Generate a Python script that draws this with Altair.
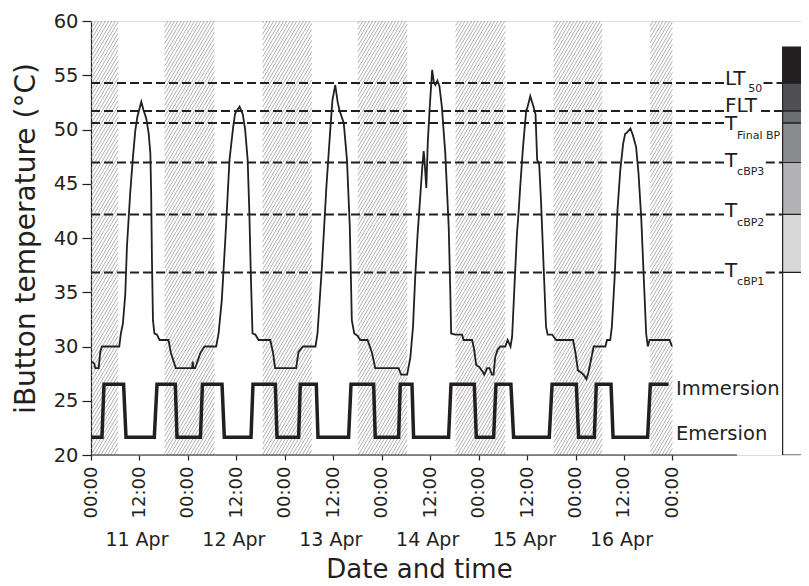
import json
import altair as alt
import pandas as pd

# ---------------- data (hours since 11 Apr 00:00) ----------------
temp_hours = [0.25, 0.82, 1.07, 1.9, 2.3, 2.7, 7.0, 7.4, 7.9, 8.5, 8.9, 9.7, 10.4, 10.97, 11.5, 12.46, 13.0,
              13.7, 14.3, 14.7, 14.9, 15.1, 15.35, 15.7, 16.3, 17.0, 19.2, 19.8, 20.5, 21.0, 25.0, 25.2, 25.4,
              25.8, 27.1, 28.1, 31.0, 31.6, 32.4, 33.3, 34.3, 35.2, 35.7, 36.8, 37.6, 38.2, 38.8, 39.2, 39.6,
              40.0, 40.7, 41.5, 44.4, 45.1, 45.6, 50.8, 51.4, 52.5, 55.6, 56.1, 57.2, 58.3, 59.3, 59.8, 60.5,
              61.1, 61.6, 62.6, 63.4, 64.1, 64.6, 65.2, 66.0, 66.7, 68.5, 69.6, 70.4, 76.2, 76.8, 78.3, 79.1,
              79.75, 80.3, 80.9, 81.6, 82.0, 82.4, 82.6, 83.05, 83.4, 83.9, 84.5, 84.9, 85.3, 85.8, 86.3, 86.9,
              87.75, 88.6, 89.0, 89.2, 90.2, 91.9, 92.3, 94.4, 94.9, 95.4, 96.2, 96.8, 97.4, 98.1, 98.7, 99.3,
              99.7, 100.1, 100.7, 101.4, 102.6, 103.2, 103.9, 104.3, 104.8, 105.5, 105.9, 106.3, 107.0, 107.8,
              108.0, 108.8, 109.6, 110.1, 110.5, 111.0, 111.45, 112.1, 112.7, 113.1, 114.2, 115.2, 119.4, 120.0,
              120.6, 121.4, 122.0, 122.7, 123.2, 123.8, 124.5, 124.9, 127.4, 127.8, 128.6, 129.0, 129.7, 130.4,
              131.1, 131.8, 132.3, 132.7, 133.6, 134.2, 135.0, 135.6, 136.3, 136.9, 137.5, 137.9, 138.35, 143.3,
              143.9]
temp_values = [28.6, 28.4, 28.0, 28.0, 29.5, 30.0, 30.0, 31.2, 32.1, 34.9, 39.2, 44.1, 47.5, 49.9, 51.2, 52.55, 51.8,
               51.0, 49.6, 47.8, 44.1, 37.9, 32.4, 31.2, 31.1, 30.6, 30.6, 29.4, 28.6, 28.0, 28.0, 28.6, 28.0,
               28.0, 29.4, 30.0, 30.0, 31.2, 34.3, 40.1, 47.2, 50.2, 51.5, 52.1, 51.4, 49.9, 47.2, 42.6, 36.4,
               31.2, 31.1, 30.6, 30.6, 29.4, 28.0, 28.0, 29.5, 30.0, 30.0, 31.2, 37.4, 44.7, 50.2, 52.7, 54.1,
               52.5, 51.7, 50.6, 47.2, 41.0, 32.4, 31.2, 31.0, 30.6, 30.6, 29.4, 28.0, 28.0, 27.4, 27.4, 29.0,
               31.8, 36.4, 40.4, 44.1, 46.3, 48.0, 47.2, 44.6, 48.7, 52.1, 55.5, 54.4, 54.1, 54.5, 54.0, 52.1,
               47.8, 41.0, 34.9, 31.2, 31.1, 31.1, 30.6, 30.6, 29.7, 28.3, 28.1, 27.8, 27.4, 28.0, 28.0, 27.4,
               27.4, 29.0, 29.7, 30.0, 30.0, 30.6, 30.0, 30.9, 34.9, 40.4, 42.3, 44.7, 48.4, 51.8,
               51.9, 53.07, 52.1, 51.4, 47.2, 46.8, 43.5, 37.4, 31.8, 31.1, 31.1, 30.6, 30.6, 29.4,
               27.8, 27.6, 27.4, 27.0, 27.6, 28.7, 30.0, 30.0, 30.0, 30.6, 30.6, 31.8, 36.4, 42.6,
               46.3, 48.7, 49.6, 49.7, 50.1, 49.5, 48.4, 46.0, 41.7, 36.4, 31.2, 30.0, 30.6, 30.6,
               30.0]

IMM, EME = 26.52, 21.64
tide_hours = [0, 2.72, 3.22, 8.07, 8.67, 15.68, 16.35, 20.88, 21.3, 27.11, 27.6, 32.45, 33.02, 39.63, 40.12,
              45.65, 46.07, 51.42, 51.84, 55.8, 56.22, 63.8, 64.4, 70.0, 70.4, 76.19, 76.6, 79.5, 79.9, 88.57,
              89.16, 94.93, 95.43, 99.72, 100.3, 104.0, 104.67, 113.5, 114.2, 120.2, 120.77, 124.66, 125.15,
              128.8, 129.3, 137.86, 138.53, 143.06]
tide_values = [EME, EME, IMM, IMM, EME, EME, IMM, IMM, EME, EME, IMM, IMM, EME, EME, IMM,
               IMM, EME, EME, IMM, IMM, EME, EME, IMM, IMM, EME, EME, IMM, IMM, EME, EME,
               IMM, IMM, EME, EME, IMM, IMM, EME, EME, IMM, IMM, EME, EME, IMM,
               IMM, EME, EME, IMM, IMM]

night_start = [0.0, 18.23, 42.5, 66.1, 90.3, 114.6, 138.5]
night_end = [6.69, 30.54, 54.7, 78.3, 102.6, 126.6, 144.0]

threshold_main = ["LT", "FLT", "T", "T", "T", "T"]
threshold_sub = ["50", "", "Final BP", "cBP3", "cBP2", "cBP1"]
threshold_values = [54.29, 51.71, 50.61, 46.96, 42.17, 36.83]

bar_bounds = [20, 36.83, 42.17, 46.96, 50.61, 51.71, 54.29, 57.6]
bar_colors = ["#ffffff", "#d8d8d9", "#b3b3b5", "#8b8c8e", "#6d6e70", "#505052", "#231f20"]

tick_hours = list(range(0, 145, 12))
tick_labels = ["00:00", "12:00"] * 6 + ["00:00"]
day_hours = [12, 36, 60, 84, 108, 132]
day_labels = ["11 Apr", "12 Apr", "13 Apr", "14 Apr", "15 Apr", "16 Apr"]
tide_label_text = ["Immersion", "Emersion"]
tide_label_y = [25.53, 21.38]

# ---------------- layout ----------------
W, H = 710, 434
X_MAX = 175.85
Y_MIN, Y_MAX = 20, 60
INK = "#231f20"
FONT = "DejaVu Sans"
pxh = W / X_MAX
pxd = H / (Y_MAX - Y_MIN)
LABEL_X = 157.0          # start of threshold label
SUB_SHIFT = {"LT": 23.4, "FLT": 34.9, "T": 12.2}   # px width of main label
SUB_W = {"50": 14.0, "": 0, "Final BP": 44, "cBP3": 27.5, "cBP2": 27.5, "cBP1": 27.5}
MAIN_DY = [2.3, 1.0, 7.0, 4.4, 3.0, 4.4]     # px below the line of the main label baseline
SUB_DY = [7.0, 0, 9.0, 8.0, 8.5, 8.5]        # px below main baseline of the subscript baseline
BAR_X = 171.3
AXIS_END = 160.0
TIDE_LABEL_X = 144.9

xs = alt.Scale(domain=[0, X_MAX], nice=False, zero=False)
ys = alt.Scale(domain=[Y_MIN, Y_MAX], nice=False, zero=False)

yaxis = alt.Axis(
    values=list(range(20, 61, 5)), title="iButton temperature (°C)", titleFontSize=28,
    titleFont=FONT, titleColor=INK, titleFontWeight="normal", titlePadding=13,
    labelFontSize=19.5, labelColor=INK, labelFont=FONT, labelPadding=4, tickSize=9,
    tickColor=INK, tickWidth=1.2, domainColor=INK, domainWidth=1.2, grid=False,
    labelFlush=False, labelOverlap=False, orient="left")

# hatch pattern for night bands
slope, spacing = 1.7, 3.3
hatch_rows = []
for a, b in zip(night_start, night_end):
    xa, xb = a * pxh, b * pxh
    k = int((xa - H / slope) // spacing)
    c = k * spacing
    while c < xb:
        y0 = max(0.0, (xa - c) * slope)
        y1 = min(float(H), (xb - c) * slope)
        if y1 > y0:
            hatch_rows.append(dict(x=(c + y0 / slope) / pxh, x2=(c + y1 / slope) / pxh,
                                   y=Y_MIN + y0 / pxd, y2=Y_MIN + y1 / pxd))
        c += spacing
hatch_df = pd.DataFrame(hatch_rows)

# dashed threshold segments and labels
seg_rows, lab_rows, sub_rows = [], [], []
for i, (m, s, v) in enumerate(zip(threshold_main, threshold_sub, threshold_values)):
    seg_rows.append(dict(x=0, x2=LABEL_X - 0.2, y=v))
    sx = LABEL_X + SUB_SHIFT[m] / pxh
    end = (sx + SUB_W[s] / pxh) if s else sx
    if end + 0.5 < BAR_X:
        seg_rows.append(dict(x=end + 0.3, x2=BAR_X, y=v))
    base = v - MAIN_DY[i] / pxd
    lab_rows.append(dict(x=LABEL_X, y=base, t=m))
    if s:
        sub_rows.append(dict(x=sx, y=base - SUB_DY[i] / pxd, t=s))
seg_df = pd.DataFrame(seg_rows)
lab_df = pd.DataFrame(lab_rows)
sub_df = pd.DataFrame(sub_rows)

bar_df = pd.DataFrame(dict(lo=bar_bounds[:-1], hi=bar_bounds[1:], col=bar_colors,
                           x=[BAR_X] * 7, x2=[X_MAX + 5] * 7))

temp_df = pd.DataFrame(dict(h=temp_hours, temp=temp_values))
tide_df = pd.DataFrame(dict(h=tide_hours, temp=tide_values))
tide_lab_df = pd.DataFrame(dict(x=[TIDE_LABEL_X] * 2, y=tide_label_y, t=tide_label_text))
axis_df = pd.DataFrame(dict(x=[0], x2=[AXIS_END], y=[Y_MIN]))

noX = dict(scale=xs, axis=None)
Yenc = dict(scale=ys, axis=yaxis, title="iButton temperature (°C)")

hatch = alt.Chart(hatch_df).mark_rule(color="#8f8f8f", strokeWidth=0.7).encode(
    x=alt.X("x:Q", **noX), x2="x2:Q", y=alt.Y("y:Q", **Yenc), y2="y2:Q")

segs = alt.Chart(seg_df).mark_rule(color=INK, strokeWidth=2, strokeDash=[9, 4]).encode(
    x=alt.X("x:Q", **noX), x2="x2:Q", y=alt.Y("y:Q", **Yenc))

bar = alt.Chart(bar_df).mark_rect(stroke=INK, strokeWidth=1.2, clip=True).encode(
    x=alt.X("x:Q", **noX), x2="x2:Q", y=alt.Y("lo:Q", **Yenc), y2="hi:Q",
    fill=alt.Fill("col:N", scale=None))

time_expr = json.dumps(tick_labels) + "[round(datum.value/12)]"
day_expr = json.dumps(day_labels) + "[round((datum.value-12)/24)]"

temp_line = alt.Chart(temp_df).mark_line(color=INK, strokeWidth=1.8).encode(
    x=alt.X("h:Q", scale=xs, axis=alt.Axis(
        orient="bottom", values=tick_hours, labelExpr=time_expr, labelAngle=-90, title=None, grid=False,
        domain=False, tickSize=5, tickColor=INK, tickWidth=1.2, labelPadding=6,
        labelFontSize=18, labelColor=INK, labelFont=FONT, labelFlush=False, labelOverlap=False)),
    y=alt.Y("temp:Q", **Yenc))

tide_line = alt.Chart(tide_df).mark_line(color=INK, strokeWidth=3.5).encode(
    x=alt.X("h:Q", scale=xs, axis=alt.Axis(
        orient="bottom", values=day_hours, labelExpr=day_expr, ticks=False, tickSize=0, domain=False,
        grid=False, labelPadding=75, labelFontSize=19, labelColor=INK, labelFont=FONT, labelOffset=-3,
        labelFlush=False, labelOverlap=False,
        title="Date and time", titleFontSize=26, titleFont=FONT, titleColor=INK,
        titleFontWeight="normal", titleX=328, titleY=122, titleBaseline="alphabetic",
        titleAlign="center")),
    y=alt.Y("temp:Q", **Yenc))

axis_rule = alt.Chart(axis_df).mark_rule(color=INK, strokeWidth=1.2).encode(
    x=alt.X("x:Q", **noX), x2="x2:Q", y=alt.Y("y:Q", **Yenc))

labs = alt.Chart(lab_df).mark_text(align="left", baseline="alphabetic", fontSize=20,
                                   font=FONT, color=INK).encode(
    x=alt.X("x:Q", **noX), y=alt.Y("y:Q", **Yenc), text="t:N")

subs = alt.Chart(sub_df).mark_text(align="left", baseline="alphabetic", fontSize=11,
                                   font=FONT, color=INK).encode(
    x=alt.X("x:Q", **noX), y=alt.Y("y:Q", **Yenc), text="t:N")

tide_labs = alt.Chart(tide_lab_df).mark_text(align="left", baseline="alphabetic", fontSize=19.5,
                                             font=FONT, color=INK).encode(
    x=alt.X("x:Q", **noX), y=alt.Y("y:Q", **Yenc), text="t:N")

chart = alt.layer(hatch, segs, bar, temp_line, tide_line, axis_rule, labs, subs, tide_labs).resolve_axis(
    x="independent").properties(
    width=W, height=H,
    autosize=alt.AutoSizeParams(type="none"),
    padding={"left": 83, "top": 13, "right": 0, "bottom": 123},
).configure_view(stroke=None).configure(font=FONT)

chart.save("out.html", embed_options={"renderer": "svg", "actions": False})
